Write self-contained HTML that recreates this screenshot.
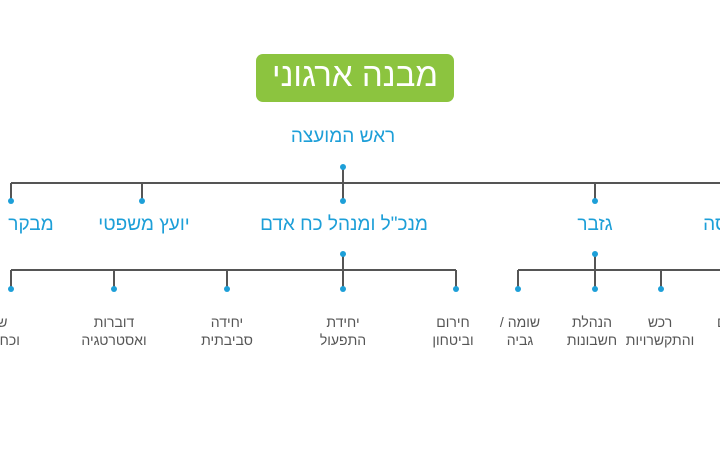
<!DOCTYPE html>
<html><head><meta charset="utf-8"><style>
html,body{margin:0;padding:0;background:#fff;width:720px;height:470px;overflow:hidden;position:relative;font-family:"Liberation Sans","Noto Sans CJK SC",sans-serif}
.t{position:absolute;direction:rtl;white-space:nowrap;transform:translateX(-50%);text-align:center}
.b{color:#1d9fd8;font-size:19px}
.g{color:#555;font-size:14px;line-height:18px}
</style></head><body>
<svg width="720" height="470" style="position:absolute;left:0;top:0">
<rect x="256" y="54" width="198" height="48" rx="7" fill="#8cc43f"/>
<g stroke="#555" stroke-width="2" fill="none">
<line x1="343" y1="167" x2="343" y2="201"/>
<line x1="11" y1="183" x2="720" y2="183"/>
<line x1="11" y1="183" x2="11" y2="201"/>
<line x1="142" y1="183" x2="142" y2="201"/>
<line x1="595" y1="183" x2="595" y2="201"/>
<line x1="343" y1="254" x2="343" y2="289"/>
<line x1="595" y1="254" x2="595" y2="289"/>
<line x1="11" y1="270" x2="456" y2="270"/>
<line x1="518" y1="270" x2="720" y2="270"/>
<line x1="11" y1="270" x2="11" y2="289"/>
<line x1="114" y1="270" x2="114" y2="289"/>
<line x1="227" y1="270" x2="227" y2="289"/>
<line x1="456" y1="270" x2="456" y2="289"/>
<line x1="518" y1="270" x2="518" y2="289"/>
<line x1="661" y1="270" x2="661" y2="289"/>
</g>
<g fill="#1d9fd8">
<circle cx="343" cy="167" r="3"/>
<circle cx="11" cy="201" r="3"/><circle cx="142" cy="201" r="3"/><circle cx="343" cy="201" r="3"/><circle cx="595" cy="201" r="3"/>
<circle cx="343" cy="254" r="3"/><circle cx="595" cy="254" r="3"/>
<circle cx="11" cy="289" r="3"/><circle cx="114" cy="289" r="3"/><circle cx="227" cy="289" r="3"/><circle cx="343" cy="289" r="3"/><circle cx="456" cy="289" r="3"/><circle cx="518" cy="289" r="3"/><circle cx="595" cy="289" r="3"/><circle cx="661" cy="289" r="3"/>
</g>
</svg>
<div class="t" style="left:355px;top:56px;color:#fff;font-size:33px">מבנה ארגוני</div>
<div class="t b" style="left:343px;top:126px">ראש המועצה</div>
<div class="t b" style="left:31px;top:214px">מבקר</div>
<div class="t b" style="left:144px;top:214px">יועץ משפטי</div>
<div class="t b" style="left:344px;top:214px">מנכ"ל ומנהל כח אדם</div>
<div class="t b" style="left:595px;top:214px">גזבר</div>
<div class="t b" style="left:730px;top:214px">הנדסה</div>
<div class="t g" style="left:-5px;top:313px">שכר<br>וכח אדם</div>
<div class="t g" style="left:114px;top:313px">דוברות<br>ואסטרטגיה</div>
<div class="t g" style="left:227px;top:313px">יחידה<br>סביבתית</div>
<div class="t g" style="left:343px;top:313px">יחידת<br>התפעול</div>
<div class="t g" style="left:453px;top:313px">חירום<br>וביטחון</div>
<div class="t g" style="left:520px;top:313px">שומה /<br>גביה</div>
<div class="t g" style="left:592px;top:313px">הנהלת<br>חשבונות</div>
<div class="t g" style="left:660px;top:313px">רכש<br>והתקשרויות</div>
<div class="t g" style="left:738px;top:313px">מכרזים<br>&nbsp;</div>
</body></html>
